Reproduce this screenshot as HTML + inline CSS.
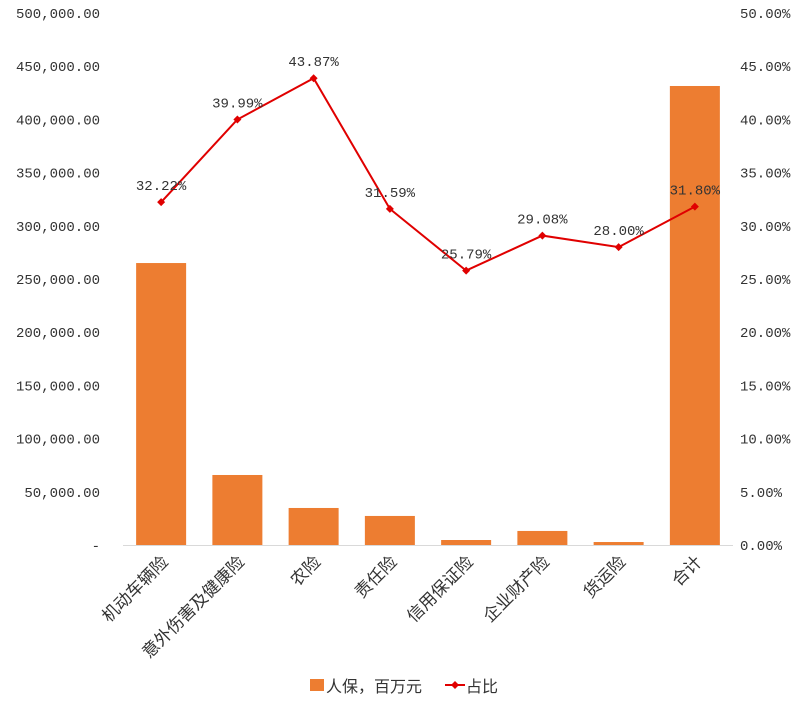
<!DOCTYPE html>
<html><head><meta charset="utf-8"><style>
body{margin:0;background:#fff;}
svg text{font-family:"Liberation Sans","Noto Sans CJK SC",sans-serif;fill:#333;}
svg text.num{font-family:"Liberation Mono","Noto Sans CJK SC",monospace;}
</style></head><body>
<svg id="chart" width="800" height="701" xmlns="http://www.w3.org/2000/svg"></svg>
<script>
const categories=["机动车辆险","意外伤害及健康险","农险","责任险","信用保证险","企业财产险","货运险","合计"];
const premiums=[265000,65800,34800,27300,4700,13200,2800,431400];
const ratios=[32.22,39.99,43.87,31.59,25.79,29.08,28.00,31.80];
const leftTicks=[0,50000,100000,150000,200000,250000,300000,350000,400000,450000,500000];
const rightTicks=[0,5,10,15,20,25,30,35,40,45,50];
const NS="http://www.w3.org/2000/svg";
const svg=document.getElementById('chart');
const x0=123,x1=733,yTop=13,yBot=545;
const band=(x1-x0)/categories.length;
const xc=i=>x0+band*(i+0.5);
const yL=v=>yBot-(v/500000)*(yBot-yTop);
const yR=v=>yBot-(v/50)*(yBot-yTop);
function mk(t,a,p){const e=document.createElementNS(NS,t);for(const k in a)e.setAttribute(k,a[k]);(p||svg).appendChild(e);return e;}
const fmt=v=>v===0?"-":v.toLocaleString('en-US',{minimumFractionDigits:2,maximumFractionDigits:2});
leftTicks.forEach(v=>{const t=mk('text',{class:'num',x:100,y:yL(v)+5,'text-anchor':'end','font-size':14});t.textContent=fmt(v);

});
rightTicks.forEach(v=>{const t=mk('text',{class:'num',x:740,y:yR(v)+5,'font-size':14});t.textContent=v.toFixed(2)+"%";

});
const ax=mk('line',{x1:x0,x2:x1,y1:yBot+0.5,y2:yBot+0.5,stroke:'#d9d9d9','stroke-width':1});


premiums.forEach((v,i)=>{const r=mk('rect',{x:xc(i)-25,y:yL(v),width:50,height:yBot-yL(v),fill:'#ed7d31'});

});
categories.forEach((c,i)=>{const t=mk('text',{x:0,y:0,'text-anchor':'end','font-size':17,transform:`translate(${xc(i)+8},${yBot+18}) rotate(-45)`});t.textContent=c;

});
const pl=mk('polyline',{points:ratios.map((v,i)=>xc(i)+','+yR(v)).join(' '),fill:'none',stroke:'#e00000','stroke-width':2});


ratios.forEach((v,i)=>{const x=xc(i),y=yR(v);
const d=mk('path',{d:`M${x} ${y-4}L${x+4} ${y}L${x} ${y+4}L${x-4} ${y}Z`,fill:'#e00000'});


const t=mk('text',{class:'num',x:x,y:y-12,'text-anchor':'middle','font-size':14,fill:'#222'});t.textContent=v.toFixed(2)+"%";

});
const lg=mk('g',{});


const lr=mk('rect',{x:310,y:679,width:14,height:12,fill:'#ed7d31'},lg);


const lt1=mk('text',{x:326,y:692,'font-size':16},lg);lt1.textContent="人保，百万元";


const ll=mk('line',{x1:445,x2:465,y1:685,y2:685,stroke:'#e00000','stroke-width':2},lg);


mk('path',{d:'M455 681L459 685L455 689L451 685Z',fill:'#e00000'},lg);
const lt2=mk('text',{x:466,y:692,'font-size':16},lg);lt2.textContent="占比";


</script>
</body></html>
